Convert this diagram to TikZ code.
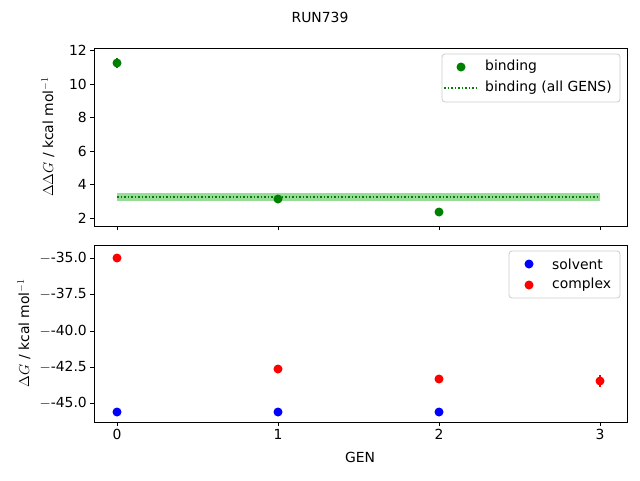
\documentclass[tikz,border=0pt]{standalone}
\usepackage{fontspec}
\setmainfont{DejaVu Sans}
\usepackage{tikz}
\usetikzlibrary{positioning}

\tikzset{
  dot/.style={circle,inner sep=0pt,minimum size=9pt,draw=none},
  tick/.style={line width=0.8pt},
  frame/.style={line width=0.8pt},
  lab/.style={font=\fontsize{13.9}{16}\selectfont,inner sep=1pt},
  legbox/.style={draw=black!20,fill=white,fill opacity=0.8,text opacity=1,rounded corners=3pt,line width=0.8pt}
}
\definecolor{mplgreen}{RGB}{0,128,0}
\definecolor{bandgreen}{RGB}{128,210,128}

\begin{document}
\begin{tikzpicture}[x=1pt,y=-1pt]
  \useasboundingbox (0,0) rectangle (640,480);
  \node[lab] (title) at (320,17) {RUN739};

  % upper panel
  \fill[bandgreen,opacity=0.8] (117,193) rectangle (600,201);
  \draw[mplgreen,dotted,line width=1.5pt] (117,197) -- (600,197);
  \foreach \x/\y/\e in {117/63/5, 278/199/2, 439/212/2}{
    \draw[mplgreen,line width=1.5pt] (\x,\y-\e) -- (\x,\y+\e);
    \node[dot,fill=mplgreen] at (\x,\y) {};
  }
  \draw[frame] (94,48) rectangle (627,226);
  \foreach \v/\y in {12/50,10/84,8/117,6/151,4/184,2/218}{
    \draw[tick] (94,\y) -- (90,\y);
    \node[lab,left] at (88,\y) {\v};
  }
  \foreach \x in {117,278,439,600}
    \draw[tick] (\x,226) -- (\x,230);
  \node[lab,rotate=90] (ylabtop) at (48,137) {$\Delta\Delta G$ / kcal mol$^{-1}$};

  \draw[legbox] (442,54) rectangle (620,102);
  \node[dot,fill=mplgreen] (legb) at (461,67) {};
  \node[lab,right] at (484,67) {binding};
  \draw[mplgreen,dotted,line width=1.5pt] (444,88) -- (478,88);
  \node[lab,right] at (484,88) {binding (all GENS)};

  % lower panel
  \foreach \x/\y/\e in {117/258/4, 278/369/2, 439/379/2, 600/381/6}{
    \draw[red,line width=1.5pt] (\x,\y-\e) -- (\x,\y+\e);
    \node[dot,fill=red] at (\x,\y) {};
  }
  \foreach \x in {117,278,439}
    \node[dot,fill=blue] at (\x,412) {};
  \draw[frame] (94,245) rectangle (627,422);
  \foreach \v/\y in {-35.0/258,-37.5/294,-40.0/331,-42.5/367,-45.0/403}{
    \draw[tick] (94,\y) -- (90,\y);
    \node[lab,left] at (88,\y) {$-$\v};
  }
  \foreach \v/\x in {0/117,1/278,2/439,3/600}{
    \draw[tick] (\x,422) -- (\x,426);
    \node[lab,below] at (\x,428) {\v};
  }
  \node[lab] (xlab) at (360,457) {GEN};
  \node[lab,rotate=90] (ylabbot) at (24,333) {$\Delta G$ / kcal mol$^{-1}$};

  \draw[legbox] (509,251) rectangle (620,298);
  \node[dot,fill=blue] (legs) at (529,264) {};
  \node[lab,right] at (551,264) {solvent};
  \node[dot,fill=red] (legc) at (529,285) {};
  \node[lab,right] at (551,285) {complex};
\end{tikzpicture}
\end{document}
